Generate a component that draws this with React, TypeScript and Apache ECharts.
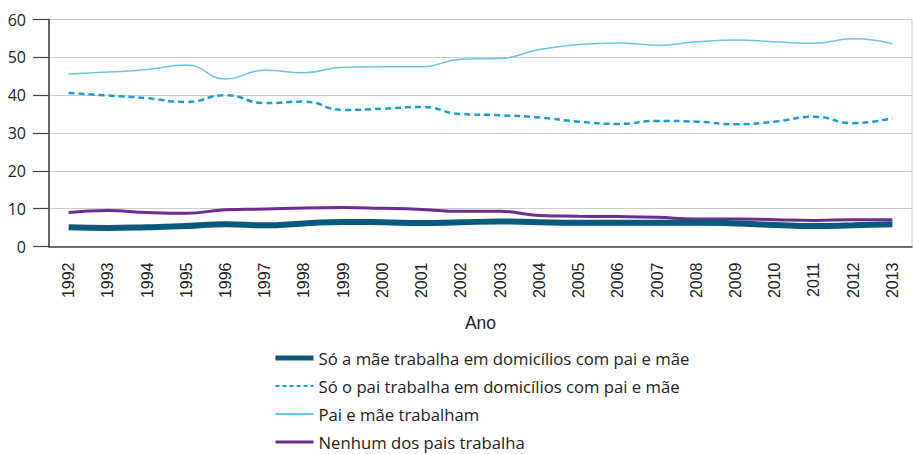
import React, { useEffect, useRef } from "react";
import * as echarts from "echarts";

const years = ["1992","1993","1994","1995","1996","1997","1998","1999","2000","2001","2002","2003","2004","2005","2006","2007","2008","2009","2010","2011","2012","2013"];
const soMae = [5.1, 4.9, 5.1, 5.4, 5.9, 5.6, 6.1, 6.5, 6.4, 6.2, 6.4, 6.6, 6.4, 6.3, 6.3, 6.3, 6.3, 6.1, 5.7, 5.4, 5.6, 5.9];
const soPai = [40.6, 39.9, 39.2, 38.2, 40.0, 37.9, 38.3, 36.1, 36.4, 36.9, 35.0, 34.7, 34.1, 33.0, 32.4, 33.2, 33.0, 32.3, 33.0, 34.3, 32.6, 33.9];
const paiEMae = [45.6, 46.1, 46.8, 48.0, 44.3, 46.6, 45.9, 47.4, 47.5, 47.5, 49.5, 49.7, 52.1, 53.4, 53.8, 53.2, 54.1, 54.6, 54.1, 53.7, 54.9, 53.6];
const nenhum = [9.0, 9.5, 9.0, 8.8, 9.7, 9.9, 10.2, 10.3, 10.1, 9.8, 9.3, 9.3, 8.2, 8.0, 7.9, 7.7, 7.3, 7.3, 7.1, 6.9, 7.1, 7.1];
const yTicks = { min: 0, max: 60, interval: 10 };

export default function App() {
  const ref = useRef<HTMLDivElement>(null);
  useEffect(() => {
    const chart = echarts.init(ref.current!, null, { renderer: "svg" });
    chart.setOption({
      animation: false,
      grid: { left: 49, right: 1, top: 19.5, bottom: 207.5, show: true, borderColor: "#cccccc", borderWidth: 1 },
      legend: {
        orient: "vertical",
        left: 273,
        top: 348,
        height: 140,
        padding: 0,
        itemWidth: 38,
        itemHeight: 14,
        itemGap: 8,
        itemStyle: { opacity: 0 },
        textStyle: { fontFamily: "Open Sans", fontSize: 16.7, lineHeight: 20, color: "#222" },
        data: [
          { name: "Só a mãe trabalha em domicílios com pai e mãe", lineStyle: { width: 5 } },
          { name: "Só o pai trabalha em domicílios com pai e mãe", lineStyle: { width: 2, type: [4, 3] } },
          { name: "Pai e mãe trabalham", lineStyle: { width: 2 } },
          { name: "Nenhum dos pais trabalha", lineStyle: { width: 3 } },
        ],
      },
      xAxis: {
        type: "category",
        data: years,
        boundaryGap: true,
        name: "Ano",
        nameLocation: "middle",
        nameGap: 67,
        nameTextStyle: { fontFamily: "Liberation Sans", fontSize: 17.5, color: "#222" },
        axisLine: { lineStyle: { color: "#444", width: 1.5 } },
        axisTick: { length: 15, lineStyle: { color: "#555", width: 1.2 }, alignWithLabel: false },
        axisLabel: { rotate: 90, margin: 16, fontFamily: "Liberation Sans", fontSize: 16, color: "#222" },
        splitLine: { show: false },
      },
      yAxis: {
        type: "value",
        min: yTicks.min,
        max: yTicks.max,
        interval: yTicks.interval,
        axisLine: { show: true, lineStyle: { color: "#666", width: 2 } },
        axisTick: { show: true, inside: false, length: 16, lineStyle: { color: "#444", width: 1.2 } },
        axisLabel: { margin: 23, fontFamily: "Open Sans", fontSize: 16, color: "#222" },
        splitLine: { lineStyle: { color: "#cccccc", width: 1.2 } },
      },
      series: [
        {
          name: "Só a mãe trabalha em domicílios com pai e mãe",
          type: "line",
          data: soMae,
          smooth: true,
          symbol: "none",
          lineStyle: { color: "#0a5a7c", width: 6 },
          itemStyle: { color: "#0a5a7c" },
          z: 4,
        },
        {
          name: "Só o pai trabalha em domicílios com pai e mãe",
          type: "line",
          data: soPai,
          smooth: true,
          symbol: "none",
          lineStyle: { color: "#1a9ccf", width: 2.5, type: [6, 4] },
          itemStyle: { color: "#1a9ccf" },
        },
        {
          name: "Pai e mãe trabalham",
          type: "line",
          data: paiEMae,
          smooth: true,
          symbol: "none",
          lineStyle: { color: "#6cc3ea", width: 1.5 },
          itemStyle: { color: "#6cc3ea" },
        },
        {
          name: "Nenhum dos pais trabalha",
          type: "line",
          data: nenhum,
          smooth: true,
          symbol: "none",
          lineStyle: { color: "#6a2d91", width: 3 },
          itemStyle: { color: "#6a2d91" },
          z: 3,
        },
      ],
    });
    return () => chart.dispose();
  }, []);
  return <div ref={ref} style={{ width: 913, height: 454, position: "absolute", left: 0, top: 0, background: "#fff" }} />;
}
